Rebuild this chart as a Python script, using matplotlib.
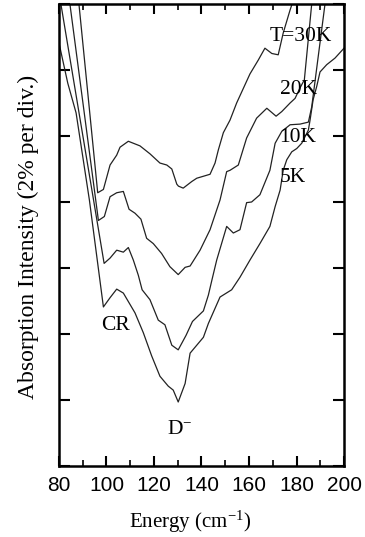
import matplotlib
matplotlib.use("Agg")
import matplotlib.pyplot as plt
from matplotlib.ticker import MultipleLocator, NullFormatter

plt.rcParams["mathtext.fontset"] = "custom"
plt.rcParams["mathtext.rm"] = "Liberation Serif"
plt.rcParams["mathtext.it"] = "Liberation Serif:italic"

# ---- data (energy in cm^-1, absorption in divisions) ----
e_30k = [86.0, 88.4, 96.3, 98.7, 101.5, 104.3, 105.7, 109.2, 114.1, 118.3, 122.5,
         125.4, 127.5, 129.6, 130.3, 132.3, 135.9, 138.0, 143.6, 145.7, 147.1,
         149.2, 152.0, 154.8, 160.4, 163.9, 166.7, 169.6, 172.3, 174.4, 177.3,
         178.7, 180.0]
a_30k = [7.88, 7.00, 4.14, 4.19, 4.56, 4.71, 4.83, 4.92, 4.85, 4.73, 4.59,
         4.56, 4.50, 4.27, 4.24, 4.21, 4.31, 4.36, 4.42, 4.59, 4.79,
         5.05, 5.24, 5.50, 5.94, 6.15, 6.33, 6.25, 6.23, 6.56, 6.91,
         7.06, 7.30]

e_20k = [82.0, 84.6, 96.6, 99.1, 101.5, 104.3, 107.1, 109.5, 112.0, 114.5, 116.9,
         119.7, 123.2, 126.7, 130.2, 133.1, 135.2, 139.4, 143.6, 147.8, 150.6,
         152.0, 155.5, 159.0, 163.2, 167.5, 171.4, 173.8, 177.3, 179.4, 181.5,
         183.3, 186.4, 187.0]
a_20k = [7.80, 7.00, 3.72, 3.78, 4.08, 4.14, 4.16, 3.89, 3.83, 3.74, 3.45,
         3.37, 3.22, 3.02, 2.90, 3.01, 3.03, 3.27, 3.58, 4.03, 4.46,
         4.48, 4.56, 4.97, 5.27, 5.42, 5.30, 5.37, 5.50, 5.57, 5.73,
         5.85, 7.00, 7.29]

e_10k = [80.0, 80.8, 99.0, 101.5, 104.3, 107.1, 109.2, 111.3, 113.4, 115.0, 118.3,
         121.8, 124.6, 127.5, 130.2, 133.5, 136.2, 140.8, 142.9, 144.4, 146.4,
         150.6, 153.4, 156.2, 159.0, 161.1, 164.6, 168.8, 171.0, 173.8, 177.3,
         181.5, 185.0, 186.4, 192.0, 192.8]
a_10k = [7.18, 7.00, 3.07, 3.15, 3.27, 3.24, 3.31, 3.12, 2.89, 2.67, 2.52,
         2.21, 2.14, 1.83, 1.76, 1.98, 2.19, 2.35, 2.59, 2.82, 3.12,
         3.63, 3.53, 3.58, 3.99, 4.00, 4.11, 4.48, 4.89, 5.07, 5.17,
         5.18, 5.21, 5.44, 7.00, 7.29]

e_5k = [80.0, 83.7, 87.2, 92.8, 98.7, 101.5, 104.3, 107.1, 112.0, 115.5, 119.0,
        122.5, 126.0, 128.1, 130.2, 133.1, 135.2, 140.8, 142.9, 147.8, 152.7,
        156.2, 160.4, 164.6, 168.8, 171.0, 173.1, 174.4, 175.9, 178.0, 180.1,
        182.2, 185.0, 185.7, 187.0, 188.5, 189.9, 192.7, 196.2, 200.0]
a_5k = [6.41, 5.80, 5.35, 4.03, 2.41, 2.55, 2.68, 2.62, 2.32, 2.02, 1.67,
        1.36, 1.21, 1.15, 0.97, 1.25, 1.71, 1.95, 2.16, 2.56, 2.67,
        2.86, 3.12, 3.37, 3.63, 3.93, 4.18, 4.48, 4.64, 4.76, 4.81,
        4.89, 5.09, 5.24, 5.55, 5.75, 5.97, 6.08, 6.18, 6.33]

series = [(e_30k, a_30k), (e_20k, a_20k), (e_10k, a_10k), (e_5k, a_5k)]
temp_labels = ["T=30K", "20K", "10K", "5K"]
label_pos = [(181.9, 6.51), (181.0, 5.70), (180.6, 4.97), (178.5, 4.37)]

serif = ["Liberation Serif", "DejaVu Serif"]

fig = plt.figure(figsize=(3.65, 5.37), dpi=100)
ax = fig.add_axes([0.1616, 0.1322, 0.7809, 0.8604])

for e, a in series:
    ax.plot(e, a, color="#222222", lw=0.9)

for txt, (x, y) in zip(temp_labels, label_pos):
    ax.text(x, y, txt, family=serif, fontsize=15.5, ha="center", va="center")

ax.text(104.0, 2.13, "CR", family=serif, fontsize=15.5, ha="center", va="center")
ax.text(130.9, 0.56, r"D$^{-}$", family=serif, fontsize=15.5, ha="center", va="center")

ax.set_xlim(80, 200)
ax.set_ylim(0, 7)
ax.xaxis.set_major_locator(MultipleLocator(20))
ax.xaxis.set_minor_locator(MultipleLocator(10))
ax.yaxis.set_major_locator(MultipleLocator(1))
ax.yaxis.set_major_formatter(NullFormatter())

ax.tick_params(axis="both", which="both", direction="in", top=True, right=True)
ax.tick_params(axis="x", which="major", length=7, width=1.5, pad=7, labelsize=15)
ax.tick_params(axis="x", which="minor", length=4, width=1.2)
ax.tick_params(axis="y", which="major", length=8, width=1.5)
for lab in ax.get_xticklabels():
    lab.set_family(["Liberation Sans", "DejaVu Sans"])

for sp in ax.spines.values():
    sp.set_linewidth(1.8)

ax.set_xlabel(r"Energy (cm$^{\mathrm{-1}}$)", family=serif, fontsize=15)
ax.xaxis.set_label_coords(0.46, -0.092)
ax.set_ylabel("Absorption Intensity (2% per div.)", family=serif, fontsize=17)
ax.yaxis.set_label_coords(-0.07, 0.495)

fig.savefig("out.png", dpi=100)
